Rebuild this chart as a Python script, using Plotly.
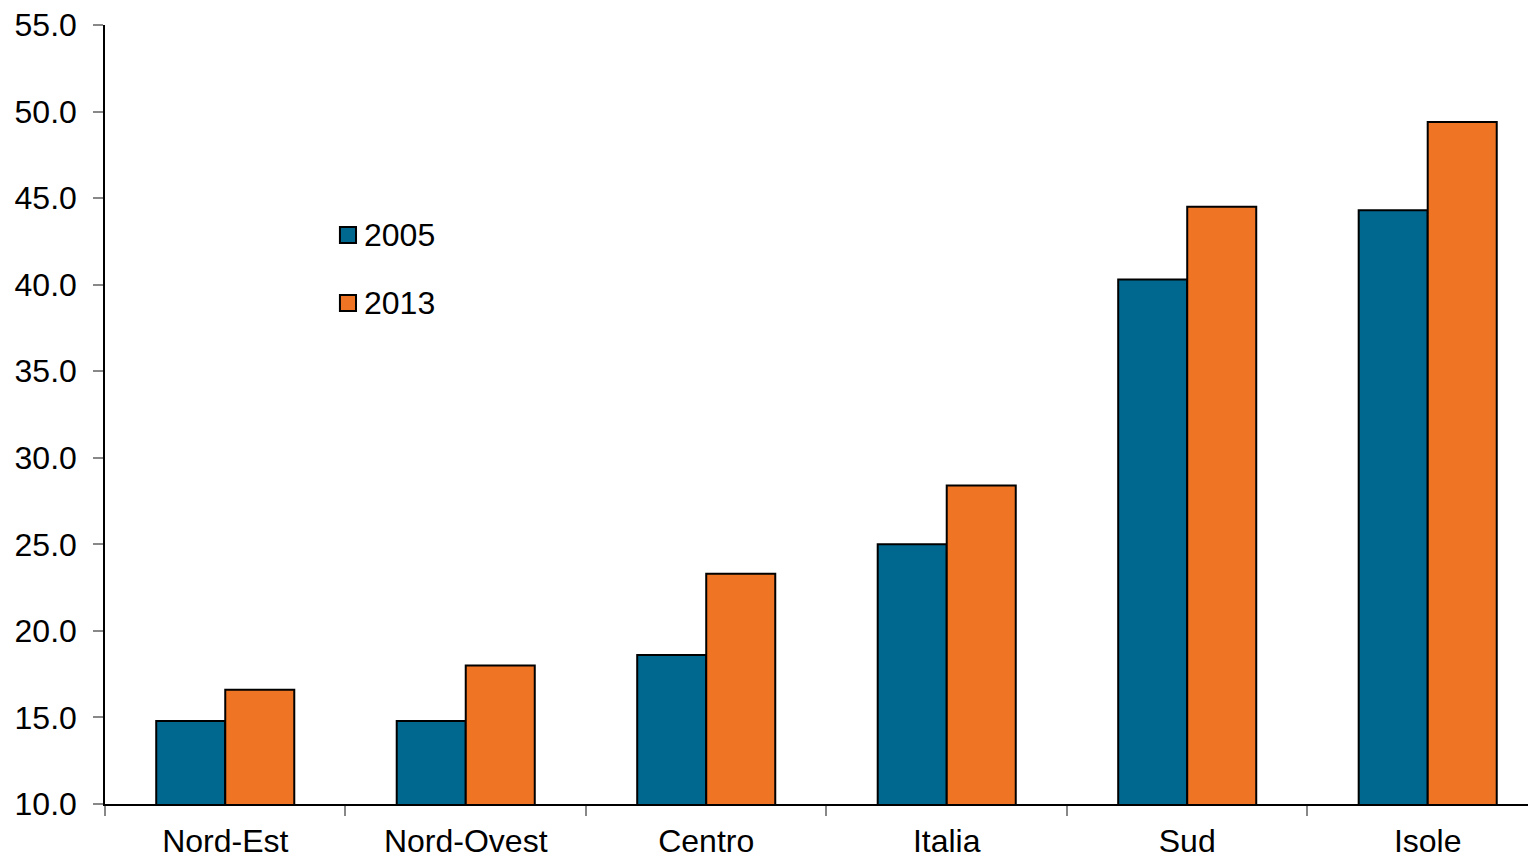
import plotly.graph_objects as go

regions = ["Nord-Est", "Nord-Ovest", "Centro", "Italia", "Sud", "Isole"]
values_2005 = [14.8, 14.8, 18.6, 25.0, 40.3, 44.3]
values_2013 = [16.6, 18.0, 23.3, 28.4, 44.5, 49.4]
series_names = ["2005", "2013"]
y_ticks = [10, 15, 20, 25, 30, 35, 40, 45, 50, 55]

BLUE = "#00688F"
ORANGE = "#EF7423"
FONT = "Liberation Sans, Arial, sans-serif"

fig = go.Figure()
for name, vals, col in zip(series_names, [values_2005, values_2013], [BLUE, ORANGE]):
    fig.add_trace(go.Bar(
        x=regions, y=vals, name=name, showlegend=False,
        marker=dict(color=col, line=dict(color="black", width=2)),
    ))

# legend drawn as small outlined squares with labels
legend_rows = [(0.7202, 0.7407, 0.7304), (0.6329, 0.6534, 0.6431)]
for (y0, y1, yc), name, col in zip(legend_rows, series_names, [BLUE, ORANGE]):
    fig.add_shape(type="rect", xref="paper", yref="paper",
                  x0=0.1651, x1=0.1764, y0=y0, y1=y1,
                  fillcolor=col, line=dict(color="black", width=2))
    fig.add_annotation(xref="paper", yref="paper", x=0.1806, y=yc,
                       text=name, showarrow=False, xanchor="left",
                       yanchor="middle", font=dict(size=32))

fig.update_layout(
    width=1528, height=858,
    margin=dict(l=105, r=0, t=25, b=54),
    paper_bgcolor="white", plot_bgcolor="white",
    font=dict(family=FONT, size=32, color="black"),
    barmode="group", bargap=0.426, bargroupgap=0,
    showlegend=False,
)
fig.update_xaxes(
    range=[-0.5, 5.417],
    showline=True, linecolor="black", linewidth=1.5,
    ticks="outside", tickson="boundaries", ticklen=10,
    tickcolor="#888888", tickwidth=1.5, ticklabelstandoff=8,
    showgrid=False, zeroline=False,
)
fig.update_yaxes(
    range=[10, 55], tickvals=y_ticks, tickformat=".1f",
    showline=True, linecolor="black", linewidth=1.5,
    ticks="outside", ticklen=10, tickcolor="#888888", tickwidth=1.5,
    ticklabelstandoff=10,
    showgrid=False, zeroline=False,
)

fig.write_html("out.html")
